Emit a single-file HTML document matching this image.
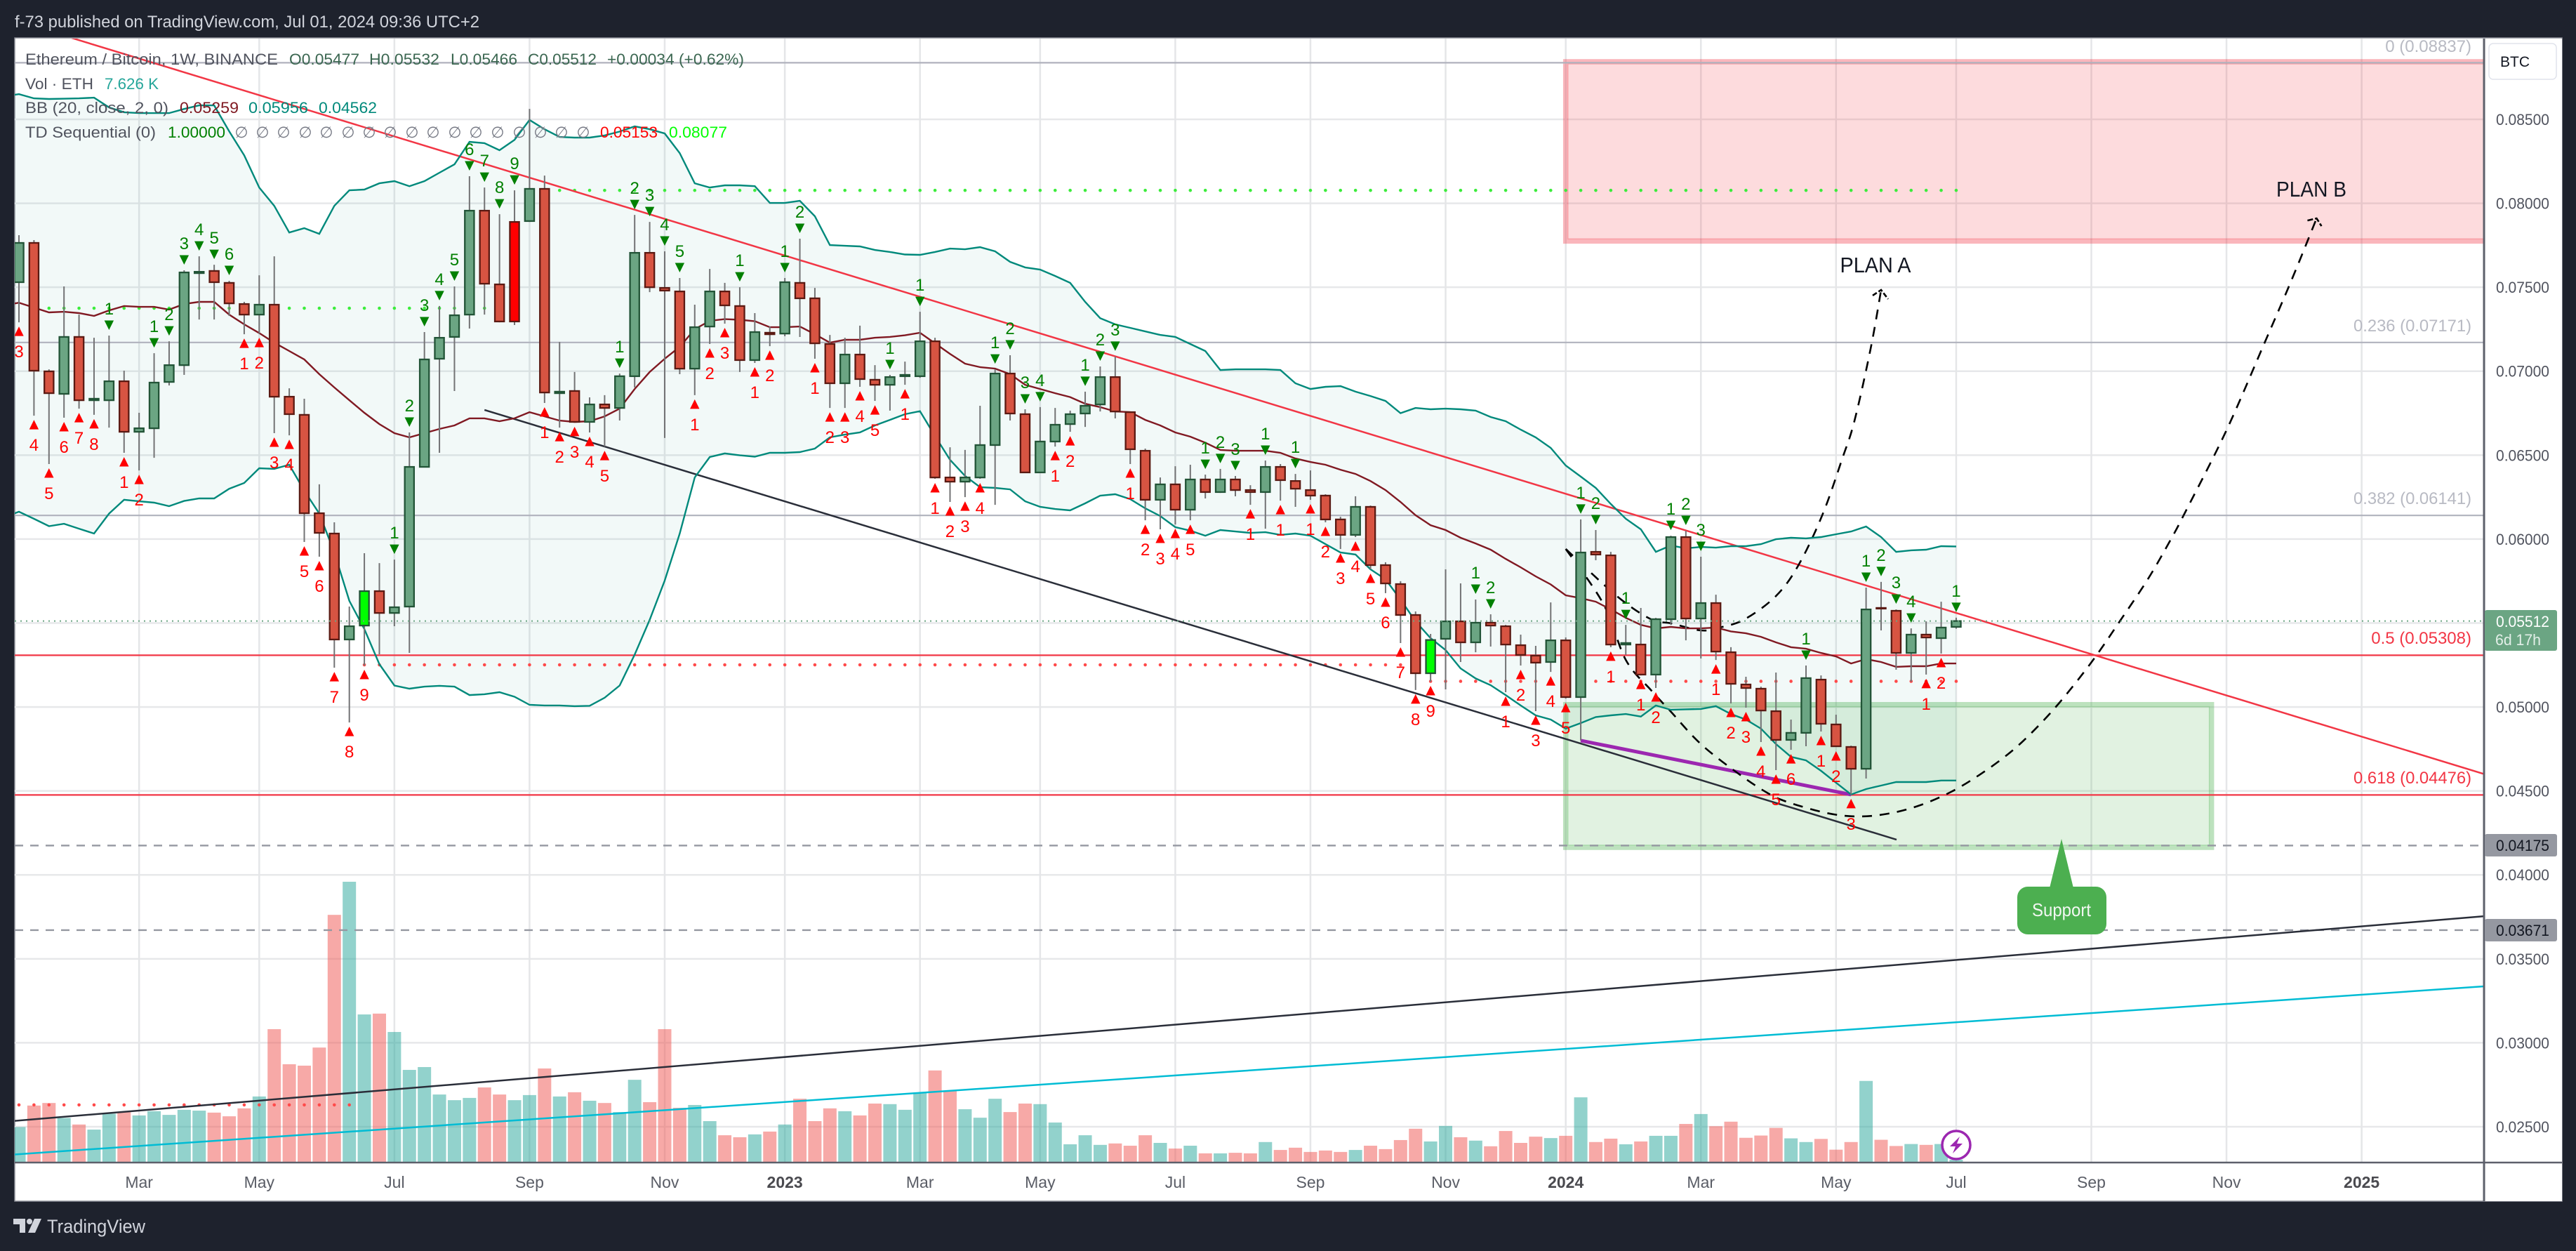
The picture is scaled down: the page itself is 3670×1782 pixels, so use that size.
<!DOCTYPE html>
<html lang="en">
<head>
<meta charset="utf-8">
<title>Ethereum / Bitcoin weekly chart</title>
<style>
html,body{margin:0;padding:0;background:#1e222d;}
svg{display:block;}
text{font-family:"Liberation Sans","DejaVu Sans",sans-serif;}
</style>
</head>
<body>
<svg id="chart" xmlns="http://www.w3.org/2000/svg" width="3670" height="1782" viewBox="0 0 3670 1782">
  <defs>
    <clipPath id="pane-clip"><rect x="21" y="55" width="3518" height="1600"></rect></clipPath>
    <clipPath id="time-clip"><rect x="21" y="1656" width="3518" height="55"></rect></clipPath>
  </defs>
  <rect x="0" y="0" width="3670" height="1782" fill="#1e222d"></rect>
  <rect x="21" y="54" width="3629" height="1657" fill="#ffffff" stroke="#8d9099" stroke-width="1.5"></rect>
  <text x="21" y="39" font-size="24" fill="#d1d4dc" textLength="662" lengthAdjust="spacingAndGlyphs">f-73 published on TradingView.com, Jul 01, 2024 09:36 UTC+2</text>

  <g id="pane" clip-path="url(#pane-clip)">
    <g id="grid"></g>
    <g id="zones"></g>
    <g id="bands-fill"></g>
    <g id="volume"></g>
    <g id="td-dots"></g>
    <g id="fibs"></g>
    <g id="drawings"></g>
    <g id="bands"></g>
    <g id="candles"></g>
    <g id="overlay"></g>
    <g id="td-marks"></g>
  </g>

  <g>
    <polygon points="2937,1195 2920,1265 2954,1265" fill="#4caf50"></polygon>
    <rect x="2874" y="1263" width="127" height="68" rx="15" fill="#4caf50"></rect>
    <text x="2937" y="1305" font-size="26" fill="#f2f7f2" text-anchor="middle" textLength="84" lengthAdjust="spacingAndGlyphs">Support</text>
  </g>
  <text x="2672" y="388" font-size="31" fill="#131722" text-anchor="middle" textLength="101" lengthAdjust="spacingAndGlyphs">PLAN A</text>
  <text x="3293" y="280" font-size="31" fill="#131722" text-anchor="middle" textLength="100" lengthAdjust="spacingAndGlyphs">PLAN B</text>

  <g font-size="24" text-anchor="end">
    <text x="3521" y="74" fill="#b8bac3">0 (0.08837)</text>
    <text x="3521" y="472" fill="#b8bac3" textLength="168" lengthAdjust="spacingAndGlyphs">0.236 (0.07171)</text>
    <text x="3521" y="718" fill="#b8bac3" textLength="168" lengthAdjust="spacingAndGlyphs">0.382 (0.06141)</text>
    <text x="3521" y="917" fill="#f23645">0.5 (0.05308)</text>
    <text x="3521" y="1116" fill="#f23645" textLength="168" lengthAdjust="spacingAndGlyphs">0.618 (0.04476)</text>
  </g>

  <g font-size="22" fill="#50535e">
    <text x="36" y="92" textLength="360" lengthAdjust="spacingAndGlyphs">Ethereum / Bitcoin, 1W, BINANCE</text>
    <text x="412" y="92" fill="#3a6650" textLength="100" lengthAdjust="spacingAndGlyphs">O0.05477</text>
    <text x="526" y="92" fill="#3a6650" textLength="100" lengthAdjust="spacingAndGlyphs">H0.05532</text>
    <text x="642" y="92" fill="#3a6650" textLength="95" lengthAdjust="spacingAndGlyphs">L0.05466</text>
    <text x="752" y="92" fill="#3a6650" textLength="98" lengthAdjust="spacingAndGlyphs">C0.05512</text>
    <text x="865" y="92" fill="#3a6650" textLength="195" lengthAdjust="spacingAndGlyphs">+0.00034 (+0.62%)</text>
    <text x="36" y="127" textLength="97" lengthAdjust="spacingAndGlyphs">Vol · ETH</text>
    <text x="149" y="127" fill="#26a69a" textLength="77" lengthAdjust="spacingAndGlyphs">7.626 K</text>
    <text x="36" y="161" textLength="204" lengthAdjust="spacingAndGlyphs">BB (20, close, 2, 0)</text>
    <text x="256" y="161" fill="#801922" textLength="84" lengthAdjust="spacingAndGlyphs">0.05259</text>
    <text x="354" y="161" fill="#00897b" textLength="85" lengthAdjust="spacingAndGlyphs">0.05956</text>
    <text x="454" y="161" fill="#00897b" textLength="83" lengthAdjust="spacingAndGlyphs">0.04562</text>
    <text x="36" y="196" textLength="186" lengthAdjust="spacingAndGlyphs">TD Sequential (0)</text>
    <text x="239" y="196" fill="#008000" textLength="82" lengthAdjust="spacingAndGlyphs">1.00000</text>
    <text x="344 374 404 435 465 496 526 556 587 617 648 678 709 740 770 800 831" y="196" fill="#787b86" text-anchor="middle">∅∅∅∅∅∅∅∅∅∅∅∅∅∅∅∅∅</text>
    <text x="855" y="196" fill="#ff0000" textLength="82" lengthAdjust="spacingAndGlyphs">0.05153</text>
    <text x="953" y="196" fill="#00ff00" textLength="83" lengthAdjust="spacingAndGlyphs">0.08077</text>
  </g>

  <g id="time-axis" clip-path="url(#time-clip)"></g>
  <line x1="21" y1="1656" x2="3650" y2="1656" stroke="#5d606b" stroke-width="2.5"></line>
  <rect x="3539" y="55" width="111" height="1656" fill="#ffffff" fill-opacity="1"></rect>
  <line x1="3539" y1="1656" x2="3650" y2="1656" stroke="#5d606b" stroke-width="2.5"></line>
  <line x1="3539" y1="55" x2="3539" y2="1711" stroke="#5d606b" stroke-width="3"></line>
  <g id="price-axis"></g>

  <g>
    <rect x="3546" y="62" width="96" height="51" rx="6" fill="#ffffff" stroke="#e0e3eb" stroke-width="1.5"></rect>
    <text x="3583" y="95" font-size="21" fill="#131722" text-anchor="middle">BTC</text>
    <rect x="3540" y="869" width="103" height="58" rx="3" fill="#6ba583"></rect>
    <text x="3594" y="893" font-size="22" fill="#ffffff" text-anchor="middle" textLength="76" lengthAdjust="spacingAndGlyphs">0.05512</text>
    <text x="3555" y="919" font-size="22" fill="#e3efe8" textLength="65" lengthAdjust="spacingAndGlyphs">6d 17h</text>
    <rect x="3540" y="1188" width="103" height="32" rx="3" fill="#9598a1"></rect>
    <text x="3594" y="1212" font-size="22" fill="#131722" text-anchor="middle" textLength="76" lengthAdjust="spacingAndGlyphs">0.04175</text>
    <rect x="3540" y="1309" width="103" height="32" rx="3" fill="#9598a1"></rect>
    <text x="3594" y="1333" font-size="22" fill="#131722" text-anchor="middle" textLength="76" lengthAdjust="spacingAndGlyphs">0.03671</text>
  </g>

  <g>
    <circle cx="2787" cy="1631" r="20" fill="#ffffff" stroke="#9c27b0" stroke-width="3.5"></circle>
    <polygon points="2792,1619 2778,1633 2786,1633 2782,1643 2796,1629 2788,1629" fill="#9c27b0"></polygon>
  </g>

  <g>
    <path d="M19 1736h17v20h-8v-12h-9z" fill="#d1d4dc"></path>
    <circle cx="42" cy="1740" r="4" fill="#d1d4dc"></circle>
    <polygon points="49,1736 59,1736 50,1756 40,1756" fill="#d1d4dc"></polygon>
    <text x="67" y="1756" font-size="27" fill="#d1d4dc" textLength="140" lengthAdjust="spacingAndGlyphs">TradingView</text>
  </g>
</svg>

<script>
// Prices are in units of 0.00001 BTC. Volume is in thousands of ETH.
const opens = [7530,7764,6999,6865,7204,6827,6827,6940,6639,6660,6936,7036,7584,7597,7526,7400,7337,7396,6848,6740,6154,6033,5402,5485,5690,5560,5598,6430,7074,7204,7337,7956,7517,7296,7894,8086,6869,6882,6698,6802,6781,6970,7705,7496,7475,7015,7266,7475,7388,7066,7229,7224,7526,7434,7162,6928,7099,6949,6919,6970,6970,7178,6367,6342,6367,6560,6986,6744,6397,6581,6685,6748,6802,6965,6756,6526,6234,6326,6175,6355,6280,6355,6292,6280,6430,6346,6292,6259,6117,6025,6192,5845,5732,5548,5201,5406,5510,5385,5502,5481,5368,5306,5268,5397,5059,5924,5903,5372,5372,5193,5523,6012,5527,5619,5326,5134,5109,4975,4804,4846,5163,4896,4762,4632,5590,5573,5322,5431,5410,5477];
const highs = [7810,7781,7011,7505,7337,7199,7212,7003,6752,7107,7178,7601,7684,7634,7538,7413,7571,7684,6898,6836,6326,6100,5598,5916,5857,5878,6635,7233,7388,7505,8161,8094,7935,8077,8562,8165,7174,6995,6844,6857,6986,7931,7889,7714,7555,7396,7609,7526,7500,7346,7266,7555,7789,7496,7216,7199,7271,7036,6978,7057,7354,7199,6547,6531,6794,7011,7095,6773,6786,6781,6765,6878,7028,7087,6760,6539,6367,6434,6443,6384,6418,6376,6321,6468,6447,6388,6409,6267,6133,6255,6200,5862,5749,5569,5435,5820,5736,5640,5552,5489,5431,5364,5623,5414,6117,6054,5924,5489,5590,5531,6020,6050,5895,5669,5356,5180,5121,5205,4925,5247,5188,4954,4770,5711,5745,5581,5468,5510,5627,5532];
const lows = [7291,6735,6447,6723,6777,6740,6664,6514,6409,6484,6915,6978,7308,7308,7329,7220,7224,6631,6618,5983,5895,5234,4908,5247,5314,5481,5322,6426,6514,6882,7254,7337,7291,7275,7889,6811,6664,6694,6635,6551,6706,6903,7471,6602,6982,6857,7162,7283,6995,7049,7149,7208,7204,7074,6781,6781,6907,6823,6765,6919,6961,6359,6221,6250,6359,6204,6706,6393,6393,6551,6639,6668,6760,6719,6447,6112,6058,6087,6112,6242,6275,6255,6204,6062,6229,6192,6234,6100,5941,6012,5820,5678,5381,5101,5151,5105,5268,5326,5360,5088,5247,4975,5209,5050,4800,5874,5356,5310,5188,5113,5489,5397,5289,5280,5021,4996,4791,4624,4745,4766,4854,4762,4478,4574,5456,5222,5151,5193,5318,5466];
const closes = [7764,7003,6869,7204,6827,6836,6940,6639,6660,6932,7036,7588,7592,7530,7404,7337,7396,6848,6744,6154,6037,5402,5481,5690,5560,5594,6430,7070,7199,7333,7956,7521,7296,7889,8086,6873,6878,6698,6802,6781,6970,7705,7500,7480,7015,7262,7475,7392,7066,7233,7220,7530,7434,7166,6928,7099,6953,6919,6965,6978,7178,6367,6342,6367,6560,6986,6748,6397,6581,6681,6744,6794,6965,6760,6535,6234,6326,6175,6355,6280,6355,6292,6280,6430,6351,6300,6259,6117,6025,6192,5845,5736,5548,5201,5399,5510,5385,5502,5485,5372,5310,5264,5397,5059,5920,5908,5372,5381,5193,5523,6012,5527,5619,5330,5138,5113,4979,4804,4846,5172,4900,4766,4632,5581,5586,5322,5431,5414,5473,5512];
const volumes = [123,199,208,155,132,114,170,176,164,179,166,184,181,174,161,189,231,469,345,340,404,873,990,521,524,459,325,335,238,218,226,263,238,218,236,330,231,246,216,208,176,290,211,469,191,201,144,94,87,97,107,132,223,144,189,179,164,206,204,184,245,323,251,186,156,223,176,206,204,139,62,94,60,65,57,94,67,47,57,30,30,32,30,70,42,50,35,40,35,42,57,45,77,117,72,127,87,75,55,109,67,89,84,92,228,70,82,62,72,92,92,134,169,126,142,85,93,120,83,70,81,43,70,286,78,56,63,60,63,7.6];

// Bollinger Bands start one bar before the first candle (bar -1).
const bbUpper = [8638,8650,8625,8621,8623,8625,8629,8571,8542,8537,8537,8537,8562,8583,8583,8429,8286,8094,7985,7826,7852,7818,7985,8077,8082,8119,8132,8102,8132,8182,8232,8366,8358,8316,8378,8496,8441,8395,8391,8391,8404,8427,8458,8441,8416,8299,8119,8094,8107,8107,8102,8002,8002,8015,7923,7751,7747,7743,7722,7710,7695,7693,7710,7730,7726,7739,7714,7651,7618,7605,7567,7526,7413,7316,7279,7258,7237,7216,7204,7162,7120,7007,7011,7011,7011,7007,6928,6894,6907,6911,6878,6852,6823,6750,6781,6773,6777,6773,6765,6727,6702,6652,6606,6543,6438,6372,6305,6209,6121,6058,5924,5962,5945,5953,5949,5958,5958,5970,5999,6008,6004,6012,6029,6045,6075,6012,5924,5933,5937,5958,5956];
const bbBasis = [7392,7408,7379,7350,7354,7346,7329,7362,7388,7383,7383,7367,7400,7413,7413,7337,7279,7227,7170,7120,7070,6982,6903,6827,6752,6685,6631,6606,6631,6656,6677,6719,6719,6702,6719,6756,6731,6706,6698,6702,6731,6777,6894,6995,7074,7145,7250,7300,7310,7306,7298,7262,7262,7266,7220,7170,7187,7187,7199,7204,7214,7229,7166,7103,7045,7024,7015,6982,6919,6894,6869,6846,6806,6786,6760,6756,6710,6677,6635,6610,6574,6531,6526,6526,6526,6514,6480,6459,6443,6413,6388,6346,6292,6221,6142,6083,6054,6008,5974,5937,5882,5832,5778,5730,5665,5648,5627,5581,5531,5489,5468,5477,5468,5468,5473,5450,5439,5418,5385,5356,5347,5322,5301,5259,5285,5268,5239,5243,5243,5259,5259];
const bbLower = [6129,6163,6121,6077,6091,6062,6033,6152,6234,6225,6217,6196,6227,6242,6242,6300,6334,6422,6418,6443,6288,6152,5920,5632,5464,5255,5128,5109,5121,5126,5121,5071,5076,5088,5061,5013,5009,5009,5005,5007,5055,5128,5312,5519,5753,6033,6367,6489,6510,6499,6491,6514,6514,6518,6539,6606,6622,6635,6677,6710,6744,6762,6614,6472,6376,6309,6305,6296,6225,6192,6179,6171,6213,6259,6267,6238,6183,6137,6071,6050,6020,6054,6045,6037,6041,6025,6033,6020,5970,5920,5908,5820,5761,5640,5510,5410,5339,5230,5170,5130,5071,5009,4950,4925,4871,4904,4940,4950,4958,4943,5009,4983,4986,4988,5005,4958,4925,4871,4779,4703,4682,4620,4549,4479,4511,4532,4553,4553,4553,4562,4562];

const tdSellBars = [6,9,10,11,12,13,14,25,26,27,28,29,30,31,32,33,40,41,42,43,44,48,51,52,58,60,65,66,67,68,71,72,73,79,80,81,83,85,97,98,104,105,107,110,111,112,119,123,124,125,126,129];
const tdSellCounts = [1,1,2,3,4,5,6,1,2,3,4,5,6,7,8,9,1,2,3,4,5,1,1,2,1,1,1,2,3,4,1,2,3,1,2,3,1,1,1,2,1,2,1,1,2,3,1,1,2,3,4,1];
const tdBuyBars = [0,1,2,3,4,5,7,8,15,16,17,18,19,20,21,22,23,35,36,37,38,39,45,46,47,49,50,53,54,55,56,57,59,61,62,63,64,69,70,74,75,76,77,78,82,84,86,87,88,89,90,91,92,93,94,99,100,101,102,103,106,108,109,113,114,115,116,117,118,120,121,122,127,128];
const tdBuyCounts = [3,4,5,6,7,8,1,2,1,2,3,4,5,6,7,8,9,1,2,3,4,5,1,2,3,1,2,1,2,3,4,5,1,1,2,3,4,1,2,1,2,3,4,5,1,1,1,2,3,4,5,6,7,8,9,1,2,3,4,5,1,1,2,1,2,3,4,5,6,1,2,3,1,2];

const resistFrom = [2,34];
const resistTo = [31,129];
const resistLevel = [7375,8077];
const supportFrom = [0,23,94];
const supportTo = [22,93,129];
const supportLevel = [2630,5251,5153];

const priceTicks = [0.085,0.08,0.075,0.07,0.065,0.06,0.055,0.05,0.045,0.04,0.035,0.03,0.025];
const priceTickLabels = ['0.08500','0.08000','0.07500','0.07000','0.06500','0.06000','0.05500','0.05000','0.04500','0.04000','0.03500','0.03000','0.02500'];
const timeTickBars = [8,16,25,34,43,51,60,68,77,86,95,103,112,121,129,138,147,156,165];
const timeTickLabels = ['Mar','May','Jul','Sep','Nov','2023','Mar','May','Jul','Sep','Nov','2024','Mar','May','Jul','Sep','Nov','2025','Mar'];

const fibLevels = [8837,7171,6141,5308,4476];
const fibColors = ['#b0b2bd','#b0b2bd','#b0b2bd','#f23645','#f23645'];
const alertLevels = [4175,3671];
const lastClose = 5512;

// Annotations, expressed as bar index and price.
const resistanceLineBars = [3.5,164.15];
const resistanceLinePrices = [8985,4601];
const channelLineBars = [31,125.03];
const channelLinePrices = [6769,4210];
const purpleLineBars = [104,122];
const purpleLinePrices = [4800,4478];
const risingBlackBars = [-0.28,164.15];
const risingBlackPrices = [2535,3754];
const risingCyanBars = [-0.28,164.15];
const risingCyanPrices = [2335,3336];
const planABars = [103,106.4,108.67,110.03,112,113.25,114.93,117,118.5,120.1,121.4,122.22,123.3,124];
const planAPrices = [5941,5661,5523,5498,5456,5473,5523,5661,5845,6146,6476,6702,7133,7484];
const planBBars = [103,105.5,107,108.67,109.93,112,114.5,116.4,117.83,120.35,122.4,124.5,126.6,128.67,130.54,132.41,133.96,135.83,138.02,139.89,141.76,143.3,144.24,146.95,149.5,151.35,153];
const planBPrices = [5941,5615,5280,5101,4979,4779,4603,4490,4432,4369,4348,4365,4415,4495,4595,4716,4841,5021,5268,5510,5761,5999,6158,6639,7162,7546,7910];
const redZoneBars = [103,175];
const redZonePrices = [8843,7775];
const greenZoneBars = [103,146];
const greenZonePrices = [5014,4164];

const SVGNS = 'http://www.w3.org/2000/svg';
const barX = (i) => 27 + 21.395 * i;
const priceY = (p) => 1605 - (p / 100000 - 0.025) * 23917;
const tickY = (v) => 1605 - (v - 0.025) * 23917;
const volH = (v) => v * 0.403;
const VOL_BASE = 1655;
const ZONE_INSET = 2.2;

function make(tag, attrs, parent) {
  const el = document.createElementNS(SVGNS, tag);
  for (const key in attrs) el.setAttribute(key, attrs[key]);
  parent.appendChild(el);
  return el;
}
const layer = (id) => document.getElementById(id);

// Grid
priceTicks.forEach((t) => {
  const line = make('line', {x1: 21, x2: 3539, y1: tickY(t), y2: tickY(t), stroke: '#e7e8ea', 'stroke-width': 2.5}, layer('grid'));
  
  
});
timeTickBars.forEach((b) => {
  const line = make('line', {x1: barX(b), x2: barX(b), y1: 55, y2: 1656, stroke: '#e5e6e8', 'stroke-width': 2.5}, layer('grid'));
  
  
});

// Zones: an inset fill plus a separate border, so the border keeps one tone
const redLeft = barX(redZoneBars[0]);
const redRight = barX(redZoneBars[1]);
const redTop = priceY(redZonePrices[0]);
const redBottom = priceY(redZonePrices[1]);
const redZone = make('rect', {x: redLeft + ZONE_INSET, y: redTop + ZONE_INSET, width: redRight - redLeft - 2 * ZONE_INSET, height: redBottom - redTop - 2 * ZONE_INSET, fill: 'rgba(242,54,69,0.18)'}, layer('zones'));


const redBorder = make('rect', {x: redLeft, y: redTop, width: redRight - redLeft, height: redBottom - redTop, fill: 'none', stroke: 'rgba(242,54,69,0.36)', 'stroke-width': 7.5}, layer('zones'));


const greenLeft = barX(greenZoneBars[0]);
const greenRight = barX(greenZoneBars[1]);
const greenTop = priceY(greenZonePrices[0]);
const greenBottom = priceY(greenZonePrices[1]);
const greenZone = make('rect', {x: greenLeft + ZONE_INSET, y: greenTop + ZONE_INSET, width: greenRight - greenLeft - 2 * ZONE_INSET, height: greenBottom - greenTop - 2 * ZONE_INSET, fill: 'rgba(76,175,80,0.17)'}, layer('zones'));


const greenBorder = make('rect', {x: greenLeft, y: greenTop, width: greenRight - greenLeft, height: greenBottom - greenTop, fill: 'none', stroke: 'rgba(76,175,80,0.37)', 'stroke-width': 7.5}, layer('zones'));



// Bollinger fill and lines; band arrays start at bar -1
const bandPoints = (arr) => arr.map((p, k) => barX(k - 1).toFixed(1) + ',' + priceY(p).toFixed(1));
const fillPoints = bandPoints(bbUpper).concat(bandPoints(bbLower).reverse()).join(' ');
const bbFill = make('polygon', {points: fillPoints, fill: 'rgba(0,137,123,0.05)'}, layer('bands-fill'));


const bbUpperLine = make('polyline', {points: bandPoints(bbUpper).join(' '), fill: 'none', stroke: '#00897b', 'stroke-width': 2.4}, layer('bands'));


const bbLowerLine = make('polyline', {points: bandPoints(bbLower).join(' '), fill: 'none', stroke: '#00897b', 'stroke-width': 2.4}, layer('bands'));


const bbBasisLine = make('polyline', {points: bandPoints(bbBasis).join(' '), fill: 'none', stroke: '#801922', 'stroke-width': 2.4}, layer('bands'));



// Volume
volumes.forEach((v, i) => {
  const up = closes[i] >= opens[i];
  const bar = make('rect', {x: barX(i) - 9.5, y: VOL_BASE - volH(v), width: 19, height: volH(v), fill: up ? 'rgba(38,166,154,0.5)' : 'rgba(239,83,80,0.5)'}, layer('volume'));
  
  
});

// TD resistance and support dots
resistLevel.forEach((level, k) => {
  for (let i = resistFrom[k]; i <= resistTo[k]; i++) {
    const dot = make('circle', {cx: barX(i), cy: priceY(level), r: 2.3, fill: '#3cec3c'}, layer('td-dots'));
    
    
  }
});
supportLevel.forEach((level, k) => {
  for (let i = supportFrom[k]; i <= supportTo[k]; i++) {
    const dot = make('circle', {cx: barX(i), cy: priceY(level), r: 2.3, fill: '#ff4a4a'}, layer('td-dots'));
    
    
  }
});

// Fib levels and horizontal alert lines
fibLevels.forEach((level, k) => {
  const line = make('line', {x1: 21, x2: 3539, y1: priceY(level), y2: priceY(level), stroke: fibColors[k], 'stroke-width': 2.2}, layer('fibs'));
  
  
});
alertLevels.forEach((level) => {
  const line = make('line', {x1: 21, x2: 3539, y1: priceY(level), y2: priceY(level), stroke: '#9598a1', 'stroke-width': 2.4, 'stroke-dasharray': '12 10'}, layer('fibs'));
  
  
});

// Trend lines
const straight = (bars, prices, color, width, name) => {
  const line = make('line', {x1: barX(bars[0]), y1: priceY(prices[0]), x2: barX(bars[1]), y2: priceY(prices[1]), stroke: color, 'stroke-width': width}, layer('drawings'));
  
  
};
straight(resistanceLineBars, resistanceLinePrices, '#f23645', 2.5, 'resistance-trendline');
straight(channelLineBars, channelLinePrices, '#2a2e39', 2.5, 'falling-channel-trendline');
straight(purpleLineBars, purpleLinePrices, '#9c27b0', 5, 'divergence-trendline');
straight(risingBlackBars, risingBlackPrices, '#2a2e39', 2.5, 'rising-black-trendline');
straight(risingCyanBars, risingCyanPrices, '#00bcd4', 2.5, 'rising-cyan-trendline');

// Dashed projected paths, smoothed through the read points
function smoothPath(bars, prices) {
  const pts = bars.map((b, k) => [barX(b), priceY(prices[k])]);
  let d = 'M' + pts[0][0].toFixed(1) + ' ' + pts[0][1].toFixed(1);
  for (let k = 0; k < pts.length - 1; k++) {
    const a = pts[Math.max(k - 1, 0)], b = pts[k], c = pts[k + 1], e = pts[Math.min(k + 2, pts.length - 1)];
    d += ' C' + (b[0] + (c[0] - a[0]) / 6).toFixed(1) + ' ' + (b[1] + (c[1] - a[1]) / 6).toFixed(1) + ' ' + (c[0] - (e[0] - b[0]) / 6).toFixed(1) + ' ' + (c[1] - (e[1] - b[1]) / 6).toFixed(1) + ' ' + c[0].toFixed(1) + ' ' + c[1].toFixed(1);
  }
  return d;
}
const planAPath = make('path', {d: smoothPath(planABars, planAPrices), fill: 'none', stroke: '#000', 'stroke-width': 2.6, 'stroke-dasharray': '14 11'}, layer('drawings'));


const planBPath = make('path', {d: smoothPath(planBBars, planBPrices), fill: 'none', stroke: '#000', 'stroke-width': 2.6, 'stroke-dasharray': '14 11'}, layer('drawings'));


const tipA = [barX(planABars[planABars.length - 1]), priceY(planAPrices[planAPrices.length - 1])];
const tipB = [barX(planBBars[planBBars.length - 1]), priceY(planBPrices[planBPrices.length - 1])];
const headA = make('polyline', {points: (tipA[0] - 12) + ',' + (tipA[1] + 8) + ' ' + tipA[0] + ',' + tipA[1] + ' ' + (tipA[0] + 10) + ',' + (tipA[1] + 13), fill: 'none', stroke: '#000', 'stroke-width': 2.6, 'stroke-dasharray': '7 3'}, layer('drawings'));


const headB = make('polyline', {points: (tipB[0] - 13) + ',' + (tipB[1] + 3) + ' ' + tipB[0] + ',' + tipB[1] + ' ' + (tipB[0] + 7) + ',' + (tipB[1] + 11), fill: 'none', stroke: '#000', 'stroke-width': 2.6, 'stroke-dasharray': '8 3'}, layer('drawings'));



// Candles; a TD 9 recolours the bar
opens.forEach((open, i) => {
  const up = closes[i] >= open;
  const sellNine = tdSellBars.some((b, k) => b === i && tdSellCounts[k] === 9);
  const buyNine = tdBuyBars.some((b, k) => b === i && tdBuyCounts[k] === 9);
  const fill = buyNine ? '#00ff00' : sellNine ? '#ff0000' : up ? '#6ba583' : '#d75442';
  const edge = buyNine ? '#225437' : sellNine ? '#5b1a13' : up ? '#225437' : '#5b1a13';
  const wick = make('line', {x1: barX(i), x2: barX(i), y1: priceY(highs[i]), y2: priceY(lows[i]), stroke: '#737375', 'stroke-width': 2}, layer('candles'));
  
  
  const top = priceY(Math.max(open, closes[i]));
  const bottom = priceY(Math.min(open, closes[i]));
  const body = make('rect', {x: barX(i) - 6.6, y: top, width: 13.2, height: Math.max(bottom - top, 0.6), fill: fill, stroke: edge, 'stroke-width': 2.3}, layer('candles'));
  
  
});

// Last price dotted line
const lastLine = make('line', {x1: 21, x2: 3539, y1: priceY(lastClose), y2: priceY(lastClose), stroke: '#6ba583', 'stroke-width': 2, 'stroke-dasharray': '2 6'}, layer('overlay'));



// TD marks
tdSellBars.forEach((b, k) => {
  const cx = barX(b);
  const cy = priceY(highs[b]) - 15;
  const tri = make('polygon', {points: (cx - 6.7) + ',' + (cy - 6.5) + ' ' + (cx + 6.7) + ',' + (cy - 6.5) + ' ' + cx + ',' + (cy + 7), fill: '#008000'}, layer('td-marks'));
  
  
  const digit = make('text', {x: cx, y: priceY(highs[b]) - 30, 'font-size': 24, fill: '#008000', 'text-anchor': 'middle'}, layer('td-marks'));
  digit.textContent = tdSellCounts[k];
  
  
});
tdBuyBars.forEach((b, k) => {
  const cx = barX(b);
  const cy = priceY(lows[b]) + 13;
  const tri = make('polygon', {points: (cx - 6.7) + ',' + (cy + 6.5) + ' ' + (cx + 6.7) + ',' + (cy + 6.5) + ' ' + cx + ',' + (cy - 7), fill: '#ff0000'}, layer('td-marks'));
  
  
  const digit = make('text', {x: cx, y: priceY(lows[b]) + 50, 'font-size': 24, fill: '#ff0000', 'text-anchor': 'middle'}, layer('td-marks'));
  digit.textContent = tdBuyCounts[k];
  
  
});

// Axes
priceTicks.forEach((t, k) => {
  const label = make('text', {x: 3594, y: tickY(t) + 8, 'font-size': 22, fill: '#50535e', 'text-anchor': 'middle', textLength: 76, lengthAdjust: 'spacingAndGlyphs'}, layer('price-axis'));
  label.textContent = priceTickLabels[k];
  
  
});
timeTickBars.forEach((b, k) => {
  const isYear = /^\d{4}$/.test(timeTickLabels[k]);
  const label = make('text', {x: barX(b), y: 1692, 'font-size': 23, fill: isYear ? '#4a4a4f' : '#5a5d66', 'font-weight': isYear ? 'bold' : 'normal', 'text-anchor': 'middle'}, layer('time-axis'));
  label.textContent = timeTickLabels[k];
  
  
});
</script>
</body>
</html>
